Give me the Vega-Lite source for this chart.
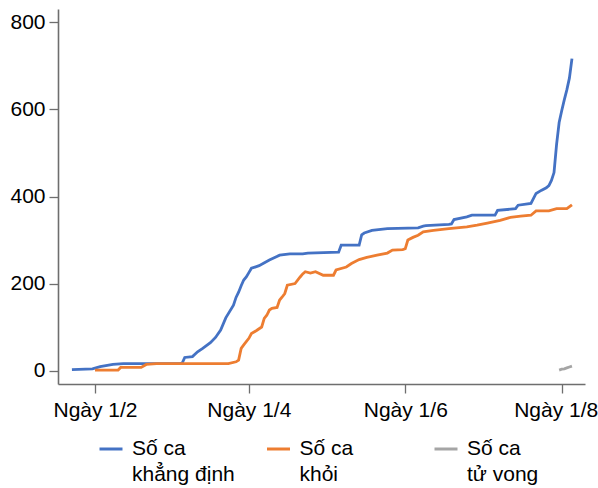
{
  "$schema": "https://vega.github.io/schema/vega-lite/v6.json",
  "width": 527,
  "height": 375,
  "autosize": {"type": "none"},
  "padding": {"left": 58, "top": 9, "right": 13, "bottom": 104},
  "background": "white",
  "config": {"font": "Liberation Sans", "view": {"stroke": null}},
  "datasets": {
    "conf": [
      {"d": "2020-01-23", "v": 2}, {"d": "2020-01-31", "v": 4}, {"d": "2020-02-03", "v": 9},
      {"d": "2020-02-08", "v": 14}, {"d": "2020-02-12", "v": 16}, {"d": "2020-03-05", "v": 16},
      {"d": "2020-03-06", "v": 17}, {"d": "2020-03-07", "v": 30}, {"d": "2020-03-10", "v": 32},
      {"d": "2020-03-12", "v": 43}, {"d": "2020-03-14", "v": 51}, {"d": "2020-03-17", "v": 64},
      {"d": "2020-03-19", "v": 76}, {"d": "2020-03-21", "v": 93}, {"d": "2020-03-23", "v": 121},
      {"d": "2020-03-26", "v": 150}, {"d": "2020-03-27", "v": 168}, {"d": "2020-03-28", "v": 180},
      {"d": "2020-03-29", "v": 195}, {"d": "2020-03-30", "v": 208}, {"d": "2020-03-31", "v": 215},
      {"d": "2020-04-01", "v": 225}, {"d": "2020-04-02", "v": 235}, {"d": "2020-04-05", "v": 241},
      {"d": "2020-04-09", "v": 254}, {"d": "2020-04-13", "v": 265}, {"d": "2020-04-17", "v": 268},
      {"d": "2020-04-22", "v": 268}, {"d": "2020-04-24", "v": 270}, {"d": "2020-05-06", "v": 272},
      {"d": "2020-05-07", "v": 288}, {"d": "2020-05-14", "v": 288}, {"d": "2020-05-15", "v": 312},
      {"d": "2020-05-16", "v": 316}, {"d": "2020-05-19", "v": 322}, {"d": "2020-05-25", "v": 326},
      {"d": "2020-06-06", "v": 328}, {"d": "2020-06-08", "v": 332}, {"d": "2020-06-09", "v": 333},
      {"d": "2020-06-18", "v": 336}, {"d": "2020-06-19", "v": 337}, {"d": "2020-06-20", "v": 347},
      {"d": "2020-06-25", "v": 353}, {"d": "2020-06-27", "v": 357}, {"d": "2020-07-06", "v": 357},
      {"d": "2020-07-07", "v": 368}, {"d": "2020-07-14", "v": 372}, {"d": "2020-07-15", "v": 380},
      {"d": "2020-07-20", "v": 384}, {"d": "2020-07-22", "v": 407}, {"d": "2020-07-24", "v": 414},
      {"d": "2020-07-26", "v": 420}, {"d": "2020-07-27", "v": 425}, {"d": "2020-07-28", "v": 437},
      {"d": "2020-07-29", "v": 455}, {"d": "2020-07-30", "v": 520}, {"d": "2020-07-31", "v": 570},
      {"d": "2020-08-01", "v": 597}, {"d": "2020-08-02", "v": 622}, {"d": "2020-08-03", "v": 645},
      {"d": "2020-08-04", "v": 672}, {"d": "2020-08-05", "v": 717}
    ],
    "rec": [
      {"d": "2020-02-01", "v": 1}, {"d": "2020-02-10", "v": 1}, {"d": "2020-02-11", "v": 7},
      {"d": "2020-02-19", "v": 7}, {"d": "2020-02-21", "v": 14}, {"d": "2020-02-25", "v": 16},
      {"d": "2020-03-24", "v": 16}, {"d": "2020-03-27", "v": 20}, {"d": "2020-03-28", "v": 24},
      {"d": "2020-03-29", "v": 51}, {"d": "2020-03-30", "v": 59}, {"d": "2020-04-01", "v": 74},
      {"d": "2020-04-02", "v": 85}, {"d": "2020-04-04", "v": 92}, {"d": "2020-04-06", "v": 100},
      {"d": "2020-04-07", "v": 120}, {"d": "2020-04-08", "v": 127}, {"d": "2020-04-09", "v": 139},
      {"d": "2020-04-10", "v": 143}, {"d": "2020-04-12", "v": 145}, {"d": "2020-04-13", "v": 162},
      {"d": "2020-04-14", "v": 169}, {"d": "2020-04-15", "v": 177}, {"d": "2020-04-16", "v": 196},
      {"d": "2020-04-19", "v": 200}, {"d": "2020-04-21", "v": 215}, {"d": "2020-04-22", "v": 222},
      {"d": "2020-04-23", "v": 227}, {"d": "2020-04-25", "v": 224}, {"d": "2020-04-27", "v": 227},
      {"d": "2020-04-30", "v": 219}, {"d": "2020-05-04", "v": 219}, {"d": "2020-05-05", "v": 231},
      {"d": "2020-05-09", "v": 238}, {"d": "2020-05-11", "v": 246}, {"d": "2020-05-14", "v": 255},
      {"d": "2020-05-17", "v": 260}, {"d": "2020-05-21", "v": 265}, {"d": "2020-05-25", "v": 270},
      {"d": "2020-05-27", "v": 277}, {"d": "2020-05-31", "v": 278}, {"d": "2020-06-01", "v": 280},
      {"d": "2020-06-02", "v": 300}, {"d": "2020-06-04", "v": 306}, {"d": "2020-06-06", "v": 311},
      {"d": "2020-06-08", "v": 319}, {"d": "2020-06-12", "v": 322}, {"d": "2020-06-18", "v": 326},
      {"d": "2020-06-25", "v": 330}, {"d": "2020-06-29", "v": 334}, {"d": "2020-07-03", "v": 339},
      {"d": "2020-07-08", "v": 345}, {"d": "2020-07-12", "v": 352}, {"d": "2020-07-16", "v": 355},
      {"d": "2020-07-20", "v": 357}, {"d": "2020-07-22", "v": 367}, {"d": "2020-07-27", "v": 367},
      {"d": "2020-07-30", "v": 372}, {"d": "2020-08-03", "v": 372}, {"d": "2020-08-05", "v": 381}
    ],
    "death": [
      {"d": "2020-07-31", "v": 1}, {"d": "2020-08-01", "v": 3}, {"d": "2020-08-02", "v": 4},
      {"d": "2020-08-03", "v": 6}, {"d": "2020-08-04", "v": 8}, {"d": "2020-08-05", "v": 10}
    ]
  },
  "layer": [
    {
      "data": {"name": "conf"},
      "transform": [{"calculate": "'Số ca|khẳng định'", "as": "s"}],
      "mark": {"type": "line", "strokeWidth": 2.8},
      "encoding": {
        "x": {"field": "d", "type": "temporal"},
        "y": {"field": "v", "type": "quantitative"},
        "color": {"field": "s", "type": "nominal"}
      }
    },
    {
      "data": {"name": "rec"},
      "transform": [{"calculate": "'Số ca|khỏi'", "as": "s"}],
      "mark": {"type": "line", "strokeWidth": 2.8},
      "encoding": {
        "x": {"field": "d", "type": "temporal"},
        "y": {"field": "v", "type": "quantitative"},
        "color": {"field": "s", "type": "nominal"}
      }
    },
    {
      "data": {"name": "death"},
      "transform": [{"calculate": "'Số ca|tử vong'", "as": "s"}],
      "mark": {"type": "line", "strokeWidth": 2.8},
      "encoding": {
        "x": {"field": "d", "type": "temporal"},
        "y": {"field": "v", "type": "quantitative"},
        "color": {"field": "s", "type": "nominal"}
      }
    }
  ],
  "encoding": {
    "x": {
      "field": "d", "type": "temporal",
      "scale": {"type": "utc", "domain": [
        {"year": 2020, "month": 1, "date": 17, "hours": 13, "minutes": 40, "utc": true},
        {"year": 2020, "month": 8, "date": 10, "hours": 2, "utc": true}
      ]},
      "axis": {
        "title": null, "grid": false,
        "values": [
          {"year": 2020, "month": 2, "date": 1, "utc": true},
          {"year": 2020, "month": 4, "date": 1, "utc": true},
          {"year": 2020, "month": 6, "date": 1, "utc": true},
          {"year": 2020, "month": 8, "date": 1, "utc": true}
        ],
        "labelExpr": "'Ngày ' + utcdate(datum.value) + '/' + (utcmonth(datum.value) + 1)",
        "labelFontSize": 21, "labelColor": "#000000", "labelPadding": 6,
        "labelOffset": {"condition": {"test": "utcmonth(datum.value) == 7", "value": -6}, "value": 0},
        "labelOverlap": false, "labelBound": false, "labelFlush": false,
        "domainColor": "#6e6e6e", "domainWidth": 1.6, "tickColor": "#6e6e6e", "tickWidth": 1.3, "tickSize": 9
      }
    },
    "y": {
      "field": "v", "type": "quantitative",
      "scale": {"domain": [-31, 831], "nice": false, "zero": false},
      "axis": {
        "title": null, "grid": false, "values": [0, 200, 400, 600, 800],
        "labelFontSize": 21, "labelColor": "#000000", "labelPadding": 4,
        "domainColor": "#6e6e6e", "domainWidth": 1.6, "tickColor": "#6e6e6e", "tickWidth": 1.3, "tickSize": 9
      }
    },
    "color": {
      "field": "s", "type": "nominal",
      "scale": {"domain": ["Số ca|khẳng định", "Số ca|khỏi", "Số ca|tử vong"], "range": ["#4472C4", "#ED7D31", "#A5A5A5"]},
      "legend": {
        "title": null, "orient": "none", "legendX": 40, "legendY": 427,
        "direction": "horizontal", "columns": 3, "gridAlign": "all", "columnPadding": 25.5,
        "symbolType": "stroke", "symbolStrokeWidth": 3, "symbolSize": 529,
        "labelExpr": "split(datum.label, '|')", "labelLimit": 300,
        "labelFontSize": 21, "labelColor": "#000000", "labelOffset": 8, "padding": 0,
        "encode": {"labels": {"update": {"lineHeight": {"value": 26}}}}
      }
    }
  }
}
